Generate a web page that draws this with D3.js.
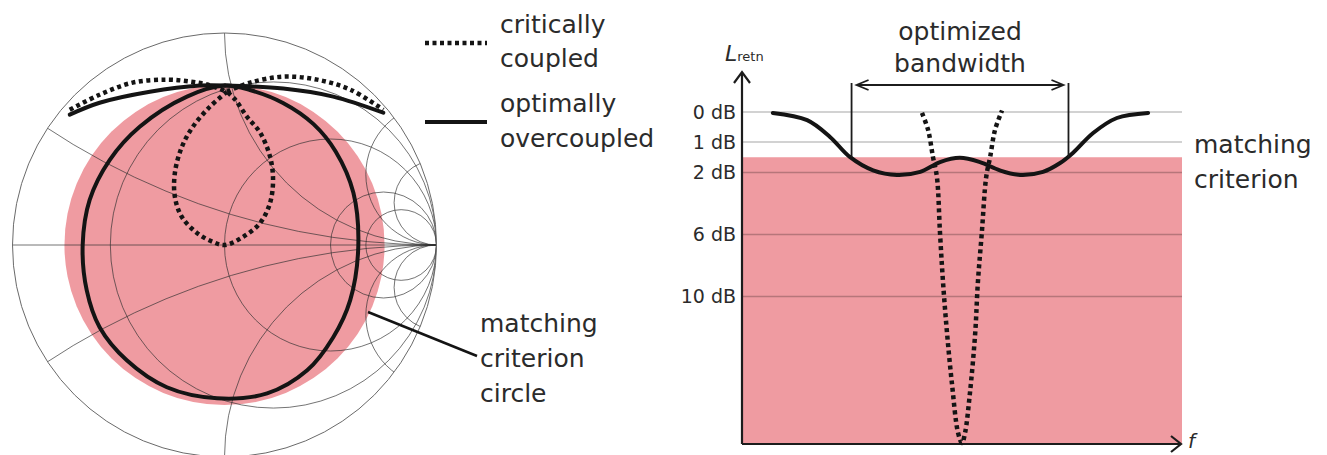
<!DOCTYPE html>
<html>
<head>
<meta charset="utf-8">
<script src="https://cdn.jsdelivr.net/npm/d3@7"></script>
<style>
body{margin:0;background:#fff;}
text{font-family:"DejaVu Sans",sans-serif;fill:#2b2b2b;}
</style>
</head>
<body>
<script>
//smith chart grid values (normalized resistance / reactance)
var smithR = [0.3, 1, 3, 5];
var smithX = [-5, -3, -1, -0.3, 0.3, 1, 3, 5];

//matching criterion as reflection magnitude |gamma|
var criterionRadius = 0.755;

//reflection coefficient loci [re, im]
var solidTailLeft = [[-0.730,0.615],[-0.589,0.671],[-0.352,0.723],[-0.116,0.752],[0.002,0.752]];
var solidLoop = [[0.002,0.752],[-0.177,0.700],[-0.400,0.558],[-0.541,0.402],[-0.636,0.213],[-0.669,0],
    [-0.650,-0.213],[-0.589,-0.388],[-0.461,-0.544],[-0.272,-0.671],[-0.035,-0.723],[0.201,-0.700],
    [0.390,-0.591],[0.513,-0.435],[0.593,-0.260],[0.631,-0.009],[0.608,0.246],[0.525,0.440],
    [0.420,0.570],[0.276,0.670],[0.120,0.731]];
var solidTailRight = [[0.002,0.752],[0.277,0.738],[0.513,0.700],[0.749,0.624]];

var dottedTailLeft = [[-0.730,0.638],[-0.589,0.709],[-0.433,0.766],[-0.272,0.780],[-0.163,0.771],[-0.083,0.757],[0.012,0.723]];
var dottedLoop = [[0.012,0.723],[-0.069,0.652],[-0.149,0.558],[-0.201,0.463],[-0.234,0.340],[-0.234,0.227],
    [-0.201,0.132],[-0.130,0.057],[-0.054,0.014],[0.002,0],[0.087,0.038],[0.168,0.104],[0.215,0.199],
    [0.229,0.307],[0.215,0.416],[0.168,0.530],[0.106,0.605],[0.050,0.686],[0.012,0.723]];
var dottedTailRight = [[0.012,0.723],[0.121,0.766],[0.277,0.794],[0.437,0.780],[0.593,0.733],[0.749,0.638]];

//return loss chart
var lossTicks = [0, 1, 2, 6, 10];
var lossTickLabels = ["0 dB", "1 dB", "2 dB", "6 dB", "10 dB"];
var criterionDb = 1.5;
var bandEdges = [0.249, 0.742];

//[normalized frequency, return loss dB]
var overcoupledLoss = [[0.070,0.03],[0.148,0.27],[0.200,0.83],[0.245,1.49],[0.298,1.93],[0.352,2.16],
    [0.405,1.98],[0.450,1.66],[0.495,1.52],[0.541,1.66],[0.586,1.93],[0.632,2.16],[0.684,1.98],
    [0.723,1.69],[0.752,1.36],[0.798,0.70],[0.852,0.20],[0.923,0.03]];
var criticalLoss = [[0.409,0.03],[0.423,0.6],[0.434,1.49],[0.443,2.29],[0.450,5.9],[0.457,9.13],
    [0.466,12.5],[0.477,15.9],[0.491,19.3],[0.500,20],[0.507,19.3],[0.518,16.6],[0.530,12.5],
    [0.536,9.13],[0.545,5.9],[0.555,2.29],[0.564,1.49],[0.575,0.6],[0.591,-0.05]];

window.onload = function(){
    var w = 1327, h = 455;
    var pink = "#ef9ba1";

    var svg = d3.select("body")
        .append("svg")
        .attr("width", w)
        .attr("height", h);

    //---------- smith chart ----------
    var gx = d3.scaleLinear().domain([-1, 1]).range([12.5, 436.5]);
    var gy = d3.scaleLinear().domain([-1, 1]).range([457, 33]);
    var R = gx(1) - gx(0);

    svg.append("clipPath")
        .attr("id", "unit")
        .append("circle")
        .attr("cx", gx(0))
        .attr("cy", gy(0))
        .attr("r", R);

    //matching criterion circle
    svg.append("circle")
        .attr("cx", gx(0))
        .attr("cy", gy(0))
        .attr("r", criterionRadius * R)
        .style("fill", pink);

    var grid = svg.append("g")
        .attr("clip-path", "url(#unit)")
        .style("fill", "none")
        .style("stroke", "#303030")
        .style("stroke-opacity", 0.75)
        .style("stroke-width", 0.9);

    grid.append("line")
        .attr("x1", gx(-1)).attr("x2", gx(1))
        .attr("y1", gy(0)).attr("y2", gy(0));

    grid.selectAll(".rCircle")
        .data(smithR)
        .enter()
        .append("circle")
        .attr("class", "rCircle")
        .attr("cx", function(d){ return gx(d / (1 + d)); })
        .attr("cy", gy(0))
        .attr("r", function(d){ return R / (1 + d); });

    grid.selectAll(".xArc")
        .data(smithX)
        .enter()
        .append("circle")
        .attr("class", "xArc")
        .attr("cx", gx(1))
        .attr("cy", function(d){ return gy(1 / d); })
        .attr("r", function(d){ return R / Math.abs(d); });

    svg.append("circle")
        .attr("cx", gx(0))
        .attr("cy", gy(0))
        .attr("r", R)
        .style("fill", "none")
        .style("stroke", "#6a6a6a")
        .style("stroke-width", 1);

    var gammaLine = d3.line()
        .x(function(d){ return gx(d[0]); })
        .y(function(d){ return gy(d[1]); })
        .curve(d3.curveCatmullRom);

    var gammaLoop = d3.line()
        .x(function(d){ return gx(d[0]); })
        .y(function(d){ return gy(d[1]); })
        .curve(d3.curveCatmullRomClosed);

    //optimally overcoupled locus
    [solidTailLeft, solidTailRight].forEach(function(pts){
        svg.append("path")
            .attr("d", gammaLine(pts))
            .style("fill", "none")
            .style("stroke", "#141414")
            .style("stroke-width", 4)
            .style("stroke-linecap", "round");
    });
    svg.append("path")
        .attr("d", gammaLoop(solidLoop))
        .style("fill", "none")
        .style("stroke", "#141414")
        .style("stroke-width", 4);

    //critically coupled locus
    [dottedTailLeft, dottedLoop, dottedTailRight].forEach(function(pts){
        svg.append("path")
            .attr("d", gammaLine(pts))
            .style("fill", "none")
            .style("stroke", "#141414")
            .style("stroke-width", 4.5)
            .style("stroke-dasharray", "4,3.5");
    });

    //leader line to the criterion circle
    svg.append("line")
        .attr("x1", 368).attr("y1", 312)
        .attr("x2", 477).attr("y2", 356)
        .style("stroke", "#141414")
        .style("stroke-width", 2.5);

    var circleLabel = svg.append("text")
        .attr("x", 480)
        .attr("y", 332)
        .style("font-size", "25px");
    ["matching", "criterion", "circle"].forEach(function(s, i){
        circleLabel.append("tspan").attr("x", 480).attr("dy", i ? 35 : 0).text(s);
    });

    //legend
    svg.append("line")
        .attr("x1", 425).attr("x2", 487).attr("y1", 43).attr("y2", 43)
        .style("stroke", "#141414").style("stroke-width", 4.5)
        .style("stroke-dasharray", "4,3.5");
    svg.append("line")
        .attr("x1", 425).attr("x2", 487).attr("y1", 122).attr("y2", 122)
        .style("stroke", "#141414").style("stroke-width", 4);

    var legendText = [["critically", 33], ["coupled", 67], ["optimally", 112], ["overcoupled", 147]];
    svg.selectAll(".legendText")
        .data(legendText)
        .enter()
        .append("text")
        .attr("class", "legendText")
        .attr("x", 500)
        .attr("y", function(d){ return d[1]; })
        .style("font-size", "25px")
        .text(function(d){ return d[0]; });

    //---------- return loss vs frequency ----------
    var fx = d3.scaleLinear().domain([0, 1]).range([742, 1182]);
    var ly = d3.scaleLinear().domain([0, 1, 2, 6, 10, 20]).range([112, 142, 172.5, 234.5, 296.5, 443]);

    svg.append("rect")
        .attr("x", fx(0))
        .attr("y", ly(criterionDb))
        .attr("width", fx(1) - fx(0))
        .attr("height", ly(20) - ly(criterionDb))
        .style("fill", pink);

    svg.selectAll(".grid")
        .data(lossTicks)
        .enter()
        .append("line")
        .attr("class", "grid")
        .attr("x1", fx(0)).attr("x2", fx(1))
        .attr("y1", function(d){ return ly(d); })
        .attr("y2", function(d){ return ly(d); })
        .style("stroke", "#000")
        .style("stroke-opacity", 0.24)
        .style("stroke-width", 1.5);

    var yAxis = d3.axisLeft(ly)
        .tickValues(lossTicks)
        .tickSize(0)
        .tickPadding(6)
        .tickFormat(function(d, i){ return lossTickLabels[i]; });

    var axis = svg.append("g")
        .attr("transform", "translate(" + fx(0) + ",0)")
        .call(yAxis);
    axis.select(".domain").remove();
    axis.selectAll("text")
        .style("font-size", "19px")
        .style("font-family", "DejaVu Sans")
        .attr("fill", "#2b2b2b");

    //arrows of both axes
    var axisStyle = function(sel){
        sel.style("fill", "none").style("stroke", "#1c1c1c").style("stroke-width", 2.2);
    };
    svg.append("path")
        .attr("d", "M" + fx(0) + "," + (ly(20) + 1) + "V72M" + (fx(0) - 8) + ",83L" + fx(0) + ",72L" + (fx(0) + 8) + ",83")
        .call(axisStyle);
    svg.append("path")
        .attr("d", "M" + fx(0) + "," + (ly(20) + 1) + "H" + (fx(1) - 1) + "M" + (fx(1) - 11) + "," + (ly(20) - 7) + "L" + (fx(1) - 1) + "," + (ly(20) + 1) + "L" + (fx(1) - 11) + "," + (ly(20) + 9))
        .call(axisStyle);

    var lossLine = d3.line()
        .x(function(d){ return fx(d[0]); })
        .y(function(d){ return ly(d[1]); })
        .curve(d3.curveCatmullRom);

    svg.append("path")
        .attr("d", lossLine(criticalLoss))
        .style("fill", "none")
        .style("stroke", "#141414")
        .style("stroke-width", 4.5)
        .style("stroke-dasharray", "4,3.5");

    svg.append("path")
        .attr("d", lossLine(overcoupledLoss))
        .style("fill", "none")
        .style("stroke", "#141414")
        .style("stroke-width", 4)
        .style("stroke-linecap", "round");

    //optimized bandwidth marker
    var barTop = 83;
    svg.selectAll(".bandEdge")
        .data(bandEdges)
        .enter()
        .append("line")
        .attr("class", "bandEdge")
        .attr("x1", function(d){ return fx(d); })
        .attr("x2", function(d){ return fx(d); })
        .attr("y1", barTop)
        .attr("y2", ly(criterionDb))
        .style("stroke", "#1c1c1c")
        .style("stroke-width", 1.8);

    var a0 = fx(bandEdges[0]) + 5, a1 = fx(bandEdges[1]) - 5, ay = 85;
    svg.append("path")
        .attr("d", "M" + a0 + "," + ay + "H" + a1 +
            "M" + (a0 + 12) + "," + (ay - 5) + "L" + a0 + "," + ay + "L" + (a0 + 12) + "," + (ay + 5) +
            "M" + (a1 - 12) + "," + (ay - 5) + "L" + a1 + "," + ay + "L" + (a1 - 12) + "," + (ay + 5))
        .style("fill", "none")
        .style("stroke", "#1c1c1c")
        .style("stroke-width", 1.8);

    var mid = (fx(bandEdges[0]) + fx(bandEdges[1])) / 2;
    svg.append("text").attr("x", mid).attr("y", 40).attr("text-anchor", "middle")
        .style("font-size", "25px").text("optimized");
    svg.append("text").attr("x", mid).attr("y", 72).attr("text-anchor", "middle")
        .style("font-size", "25px").text("bandwidth");

    //criterion label
    svg.append("text").attr("x", 1194).attr("y", 153).style("font-size", "25px").text("matching");
    svg.append("text").attr("x", 1194).attr("y", 188).style("font-size", "25px").text("criterion");

    //axis titles
    var yTitle = svg.append("text").attr("x", 725).attr("y", 61);
    yTitle.append("tspan").style("font-size", "22px").style("font-style", "italic").text("L");
    yTitle.append("tspan").style("font-size", "13px").text("retn");

    svg.append("text").attr("x", 1188).attr("y", 448)
        .style("font-size", "20px").style("font-style", "italic").text("f");
};
</script>
</body>
</html>
